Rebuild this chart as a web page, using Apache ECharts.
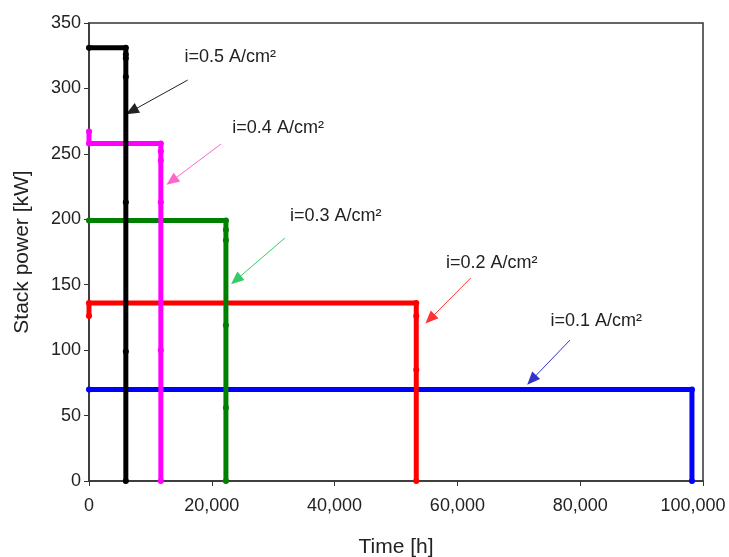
<!DOCTYPE html>
<html>
<head>
<meta charset="utf-8">
<script src="https://cdn.jsdelivr.net/npm/echarts@6/dist/echarts.min.js"></script>
<style>html,body{margin:0;padding:0;background:#fff}#c{width:729px;height:557px}</style>
</head>
<body>
<div id="c"></div>
<script>
// Data
const seriesNames = ["i=0.5 A/cm²", "i=0.4 A/cm²", "i=0.3 A/cm²", "i=0.2 A/cm²", "i=0.1 A/cm²"];
const colors = ["#000000", "#ff00ff", "#008000", "#ff0000", "#0000ff"];
const s05 = [[0,331],[6000,331],[6000,326],[6000,323],[6000,309],[6000,213],[6000,99],[6000,0]];
const s04 = [[0,267],[0,258],[11700,258],[11700,252],[11700,245],[11700,213],[11700,100],[11700,0]];
const s03 = [[0,199],[22300,199],[22300,192],[22300,184],[22300,119],[22300,56],[22300,0]];
const s02 = [[0,126],[0,136],[53300,136],[53300,126],[53300,85],[53300,0]];
const s01 = [[0,70],[98200,70],[98200,0]];
const seriesData = [s05, s04, s03, s02, s01];
const xTicks = [0, 20000, 40000, 60000, 80000, 100000];
const yTicks = [0, 50, 100, 150, 200, 250, 300, 350];
// Annotations (data coordinates)
const annoText = [[23000,324],[30800,269.5],[40200,202.5],[65600,166.5],[82600,122.3]];
const annoFrom = [[16075,306.4],[21500,257.5],[31900,185.7],[62170,155.1],[78340,107.7]];
const annoTo = [[6950,282.7],[13470,229.3],[23940,153.6],[55540,123.8],[72100,77.2]];
const annoColors = ["#222222", "#ff66cc", "#33cc66", "#ff3333", "#3333cc"];

const chart = echarts.init(document.getElementById('c'));
const font = 'Liberation Sans, Arial, sans-serif';
const series = seriesData.map((d, i) => ({
  name: seriesNames[i],
  type: 'line',
  data: d,
  showSymbol: true,
  symbol: 'circle',
  symbolSize: 6,
  lineStyle: { color: colors[i], width: 5, cap: 'round', join: 'round' },
  itemStyle: { color: colors[i] },
  z: 5 - i,
  silent: true,
  markLine: {
    silent: true,
    symbol: ['none', 'triangle'],
    symbolSize: [11, 13],
    lineStyle: { color: annoColors[i], width: 1, type: 'solid' },
    label: { show: false },
    data: [[{ coord: annoFrom[i] }, { coord: annoTo[i] }]]
  },
  markPoint: {
    silent: true,
    symbol: 'circle',
    symbolSize: 1,
    itemStyle: { color: 'rgba(0,0,0,0)' },
    label: { show: true, position: 'inside', formatter: seriesNames[i], color: '#222', fontSize: 18, fontFamily: font },
    data: [{ coord: annoText[i] }]
  }
}));

const xMax = xTicks[xTicks.length-1];
chart.setOption({
  animation: false,
  backgroundColor: '#fff',
  grid: { left: 89, right: 26, top: 23, bottom: 76, containLabel: false, outerBoundsMode: 'none',
    show: true, borderColor: '#333', borderWidth: 1.5 },
  xAxis: {
    type: 'value', min: xTicks[0], max: xMax, interval: 20000,
    name: 'Time [h]', nameLocation: 'middle', nameGap: 56,
    nameTextStyle: { fontSize: 21, color: '#222', fontFamily: font },
    axisLine: { show: true, lineStyle: { color: '#333', width: 1.5 } },
    axisTick: { show: true, inside: false, length: 5, lineStyle: { color: '#333' } },
    axisLabel: { fontSize: 18, color: '#222', fontFamily: font, margin: 16,
      formatter: v => v === xMax ? '{m|' + v.toLocaleString('en-US') + '}' : v.toLocaleString('en-US'),
      rich: { m: { fontSize: 18, color: '#222', fontFamily: font, padding: [0, 20, 0, 0] } } },
    splitLine: { show: false }
  },
  yAxis: {
    type: 'value', min: yTicks[0], max: yTicks[yTicks.length-1], interval: 50,
    name: 'Stack power [kW]', nameLocation: 'middle', nameGap: 56, nameRotate: 90,
    nameTextStyle: { fontSize: 21, color: '#222', fontFamily: font },
    axisLine: { show: true, lineStyle: { color: '#333', width: 1.5 } },
    axisTick: { show: true, inside: false, length: 5, lineStyle: { color: '#333' } },
    axisLabel: { fontSize: 18, color: '#222', fontFamily: font, margin: 8 },
    splitLine: { show: false }
  },
  series: series
});
</script>
</body>
</html>
